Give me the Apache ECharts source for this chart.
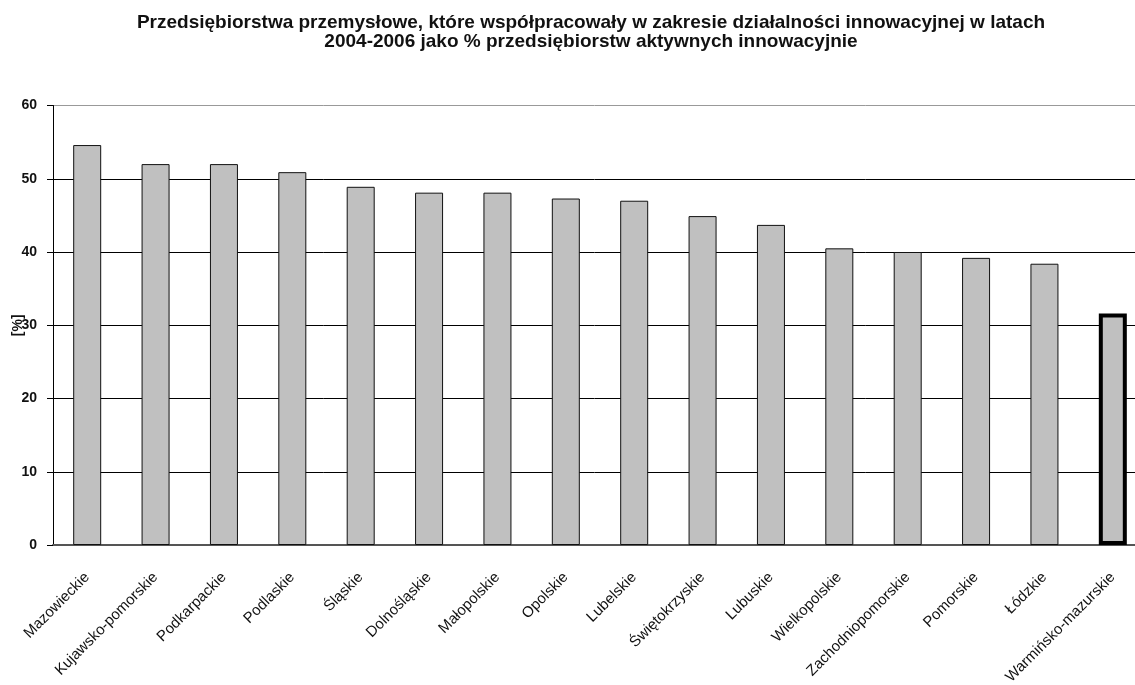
<!DOCTYPE html>
<html>
<head>
<meta charset="utf-8">
<script src="https://cdn.jsdelivr.net/npm/echarts@6/dist/echarts.min.js"></script>
<style>
html,body{margin:0;padding:0;background:#fff;}
#chart{width:1135px;height:685px;}
</style>
</head>
<body>
<div id="chart"></div>
<script>
const categories = ['Mazowieckie','Kujawsko-pomorskie','Podkarpackie','Podlaskie','Śląskie','Dolnośląskie','Małopolskie','Opolskie','Lubelskie','Świętokrzyskie','Lubuskie','Wielkopolskie','Zachodniopomorskie','Pomorskie','Łódzkie','Warmińsko-mazurskie'];
const values = [54.6, 52.0, 52.0, 50.9, 48.9, 48.1, 48.1, 47.3, 47.0, 44.9, 43.7, 40.5, 40.0, 39.2, 38.4, 31.6];
const highlighted = 'Warmińsko-mazurskie';
const titleText = 'Przedsiębiorstwa przemysłowe, które współpracowały w zakresie działalności innowacyjnej w latach\n2004-2006 jako % przedsiębiorstw aktywnych innowacyjnie';
const yName = '[%]';

const chart = echarts.init(document.getElementById('chart'), null, {renderer:'canvas'});
const font = 'Arial, "Liberation Sans", sans-serif';
chart.setOption({
  animation: false,
  backgroundColor: '#fff',
  title: {
    text: titleText,
    left: 586, top: 8, textAlign: 'center',
    textStyle: {fontFamily: font, fontSize: 19, fontWeight: 'bold', color: '#111', lineHeight: 19}
  },
  grid: {left: 53, right: -12, top: 105.5, bottom: 140, containLabel: false, outerBoundsMode: 'none'},
  xAxis: {
    type: 'category',
    data: categories,
    axisLine: {show: true, lineStyle: {color: '#555', width: 2}},
    axisTick: {show: false},
    axisLabel: {rotate: 45, margin: 30, interval: 0, fontFamily: font, fontSize: 15, color: '#111'}
  },
  yAxis: {
    type: 'value', min: 0, max: 60, interval: 10,
    name: yName, nameLocation: 'middle', nameGap: 28, nameRotate: 90, nameMoveOverlap: false,
    nameTextStyle: {fontFamily: font, fontSize: 14, fontWeight: 'bold', color: '#111'},
    axisLine: {show: true, lineStyle: {color: '#000', width: 1}},
    axisTick: {show: true, inside: false, length: 6, lineStyle: {color: '#000'}},
    axisLabel: {margin: 16, fontFamily: font, fontSize: 14, fontWeight: 'bold', color: '#111'},
    splitLine: {show: true, lineStyle: {color: ['#555','#000','#000','#000','#000','#000','#999'], width: 1}}
  },
  series: [{
    type: 'bar',
    barWidth: 28,
    data: categories.map((c, i) => ({
      value: values[i],
      itemStyle: c === highlighted
        ? {color: '#c0c0c0', borderColor: '#000', borderWidth: 4}
        : {color: '#c0c0c0', borderColor: '#111', borderWidth: 1}
    }))
  }]
});
</script>
</body>
</html>
